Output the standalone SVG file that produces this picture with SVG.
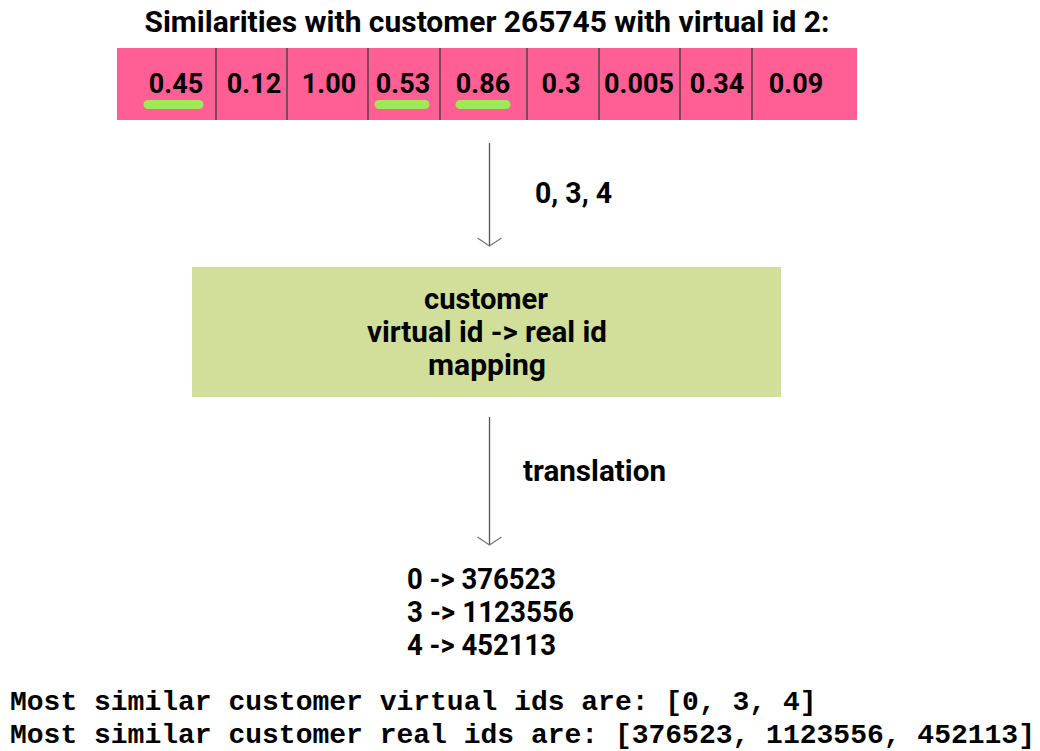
<svg xmlns="http://www.w3.org/2000/svg" width="1040" height="751" viewBox="0 0 1040 751">
  <style>
    .t { font-family: Roboto, "Liberation Sans", sans-serif; font-weight: bold; fill: #000; }
    .val { font-size: 27px; text-anchor: middle; }
    .box { font-size: 29px; text-anchor: middle; }
    .lbl { font-size: 29px; }
    .mono { font-family: "Liberation Mono", "Courier New", monospace; font-weight: bold; font-size: 28px; fill: #000; }
    .div { stroke: #333; stroke-width: 1.2; }
    .mark { stroke: #a0e85a; stroke-width: 9; stroke-linecap: round; }
    .conn { stroke: #555; stroke-width: 1.3; fill: none; }
  </style>
  <defs>
    <marker id="vee" markerWidth="26" markerHeight="14" refX="13" refY="9" orient="0" markerUnits="userSpaceOnUse">
      <path d="M1,1 L13,9 L25,1" fill="none" stroke="#777" stroke-width="1.3"/>
    </marker>
  </defs>
  <rect width="1040" height="751" fill="#fff"/>

  <text class="t" x="487" y="32" font-size="29" text-anchor="middle" textLength="685" lengthAdjust="spacingAndGlyphs">Similarities with customer 265745 with virtual id 2:</text>

  <!-- similarity vector -->
  <g id="vector">
    <rect x="117" y="48" width="740" height="72" fill="#ff5f94"/>
    <line class="div" x1="216" y1="48" x2="216" y2="120"/>
    <line class="div" x1="287" y1="48" x2="287" y2="120"/>
    <line class="div" x1="368" y1="48" x2="368" y2="120"/>
    <line class="div" x1="440" y1="48" x2="440" y2="120"/>
    <line class="div" x1="527" y1="48" x2="527" y2="120"/>
    <line class="div" x1="599" y1="48" x2="599" y2="120"/>
    <line class="div" x1="680" y1="48" x2="680" y2="120"/>
    <line class="div" x1="752" y1="48" x2="752" y2="120"/>
    <line class="mark" x1="148" y1="104.5" x2="199" y2="104.5"/>
    <line class="mark" x1="379" y1="104.5" x2="425" y2="104.5"/>
    <line class="mark" x1="460" y1="104.5" x2="506" y2="104.5"/>
    <text class="t val" x="176" y="93">0.45</text>
    <text class="t val" x="254" y="93">0.12</text>
    <text class="t val" x="329" y="93">1.00</text>
    <text class="t val" x="403" y="93">0.53</text>
    <text class="t val" x="483" y="93">0.86</text>
    <text class="t val" x="561" y="93">0.3</text>
    <text class="t val" x="639" y="93">0.005</text>
    <text class="t val" x="717" y="93">0.34</text>
    <text class="t val" x="796" y="93">0.09</text>
  </g>

  <!-- mapping table -->
  <g id="mapping">
    <rect x="192" y="267" width="589" height="130" fill="#d2df9b"/>
    <text class="t box" x="486" y="309" textLength="124" lengthAdjust="spacingAndGlyphs">customer</text>
    <text class="t box" x="487" y="342" textLength="240" lengthAdjust="spacingAndGlyphs">virtual id -&gt; real id</text>
    <text class="t box" x="487" y="375" textLength="118" lengthAdjust="spacingAndGlyphs">mapping</text>
  </g>

  <!-- translated ids -->
  <g id="result">
    <text class="t lbl" x="407" y="589" textLength="149" lengthAdjust="spacingAndGlyphs">0 -&gt; 376523</text>
    <text class="t lbl" x="407" y="622" textLength="167" lengthAdjust="spacingAndGlyphs">3 -&gt; 1123556</text>
    <text class="t lbl" x="407" y="655" textLength="149" lengthAdjust="spacingAndGlyphs">4 -&gt; 452113</text>
  </g>

  <!-- connectors -->
  <g id="connectors">
    <line class="conn" x1="489.5" y1="143" x2="489.5" y2="246" marker-end="url(#vee)"/>
    <text class="t lbl" x="535" y="203" textLength="77" lengthAdjust="spacingAndGlyphs">0, 3, 4</text>
    <line class="conn" x1="489.5" y1="417" x2="489.5" y2="545" marker-end="url(#vee)"/>
    <text class="t lbl" x="523" y="481" textLength="143" lengthAdjust="spacingAndGlyphs">translation</text>
  </g>

  <!-- console output -->
  <g id="output">
    <text class="mono" x="10" y="710">Most similar customer virtual ids are: [0, 3, 4]</text>
    <text class="mono" x="10" y="743">Most similar customer real ids are: [376523, 1123556, 452113]</text>
  </g>
</svg>
